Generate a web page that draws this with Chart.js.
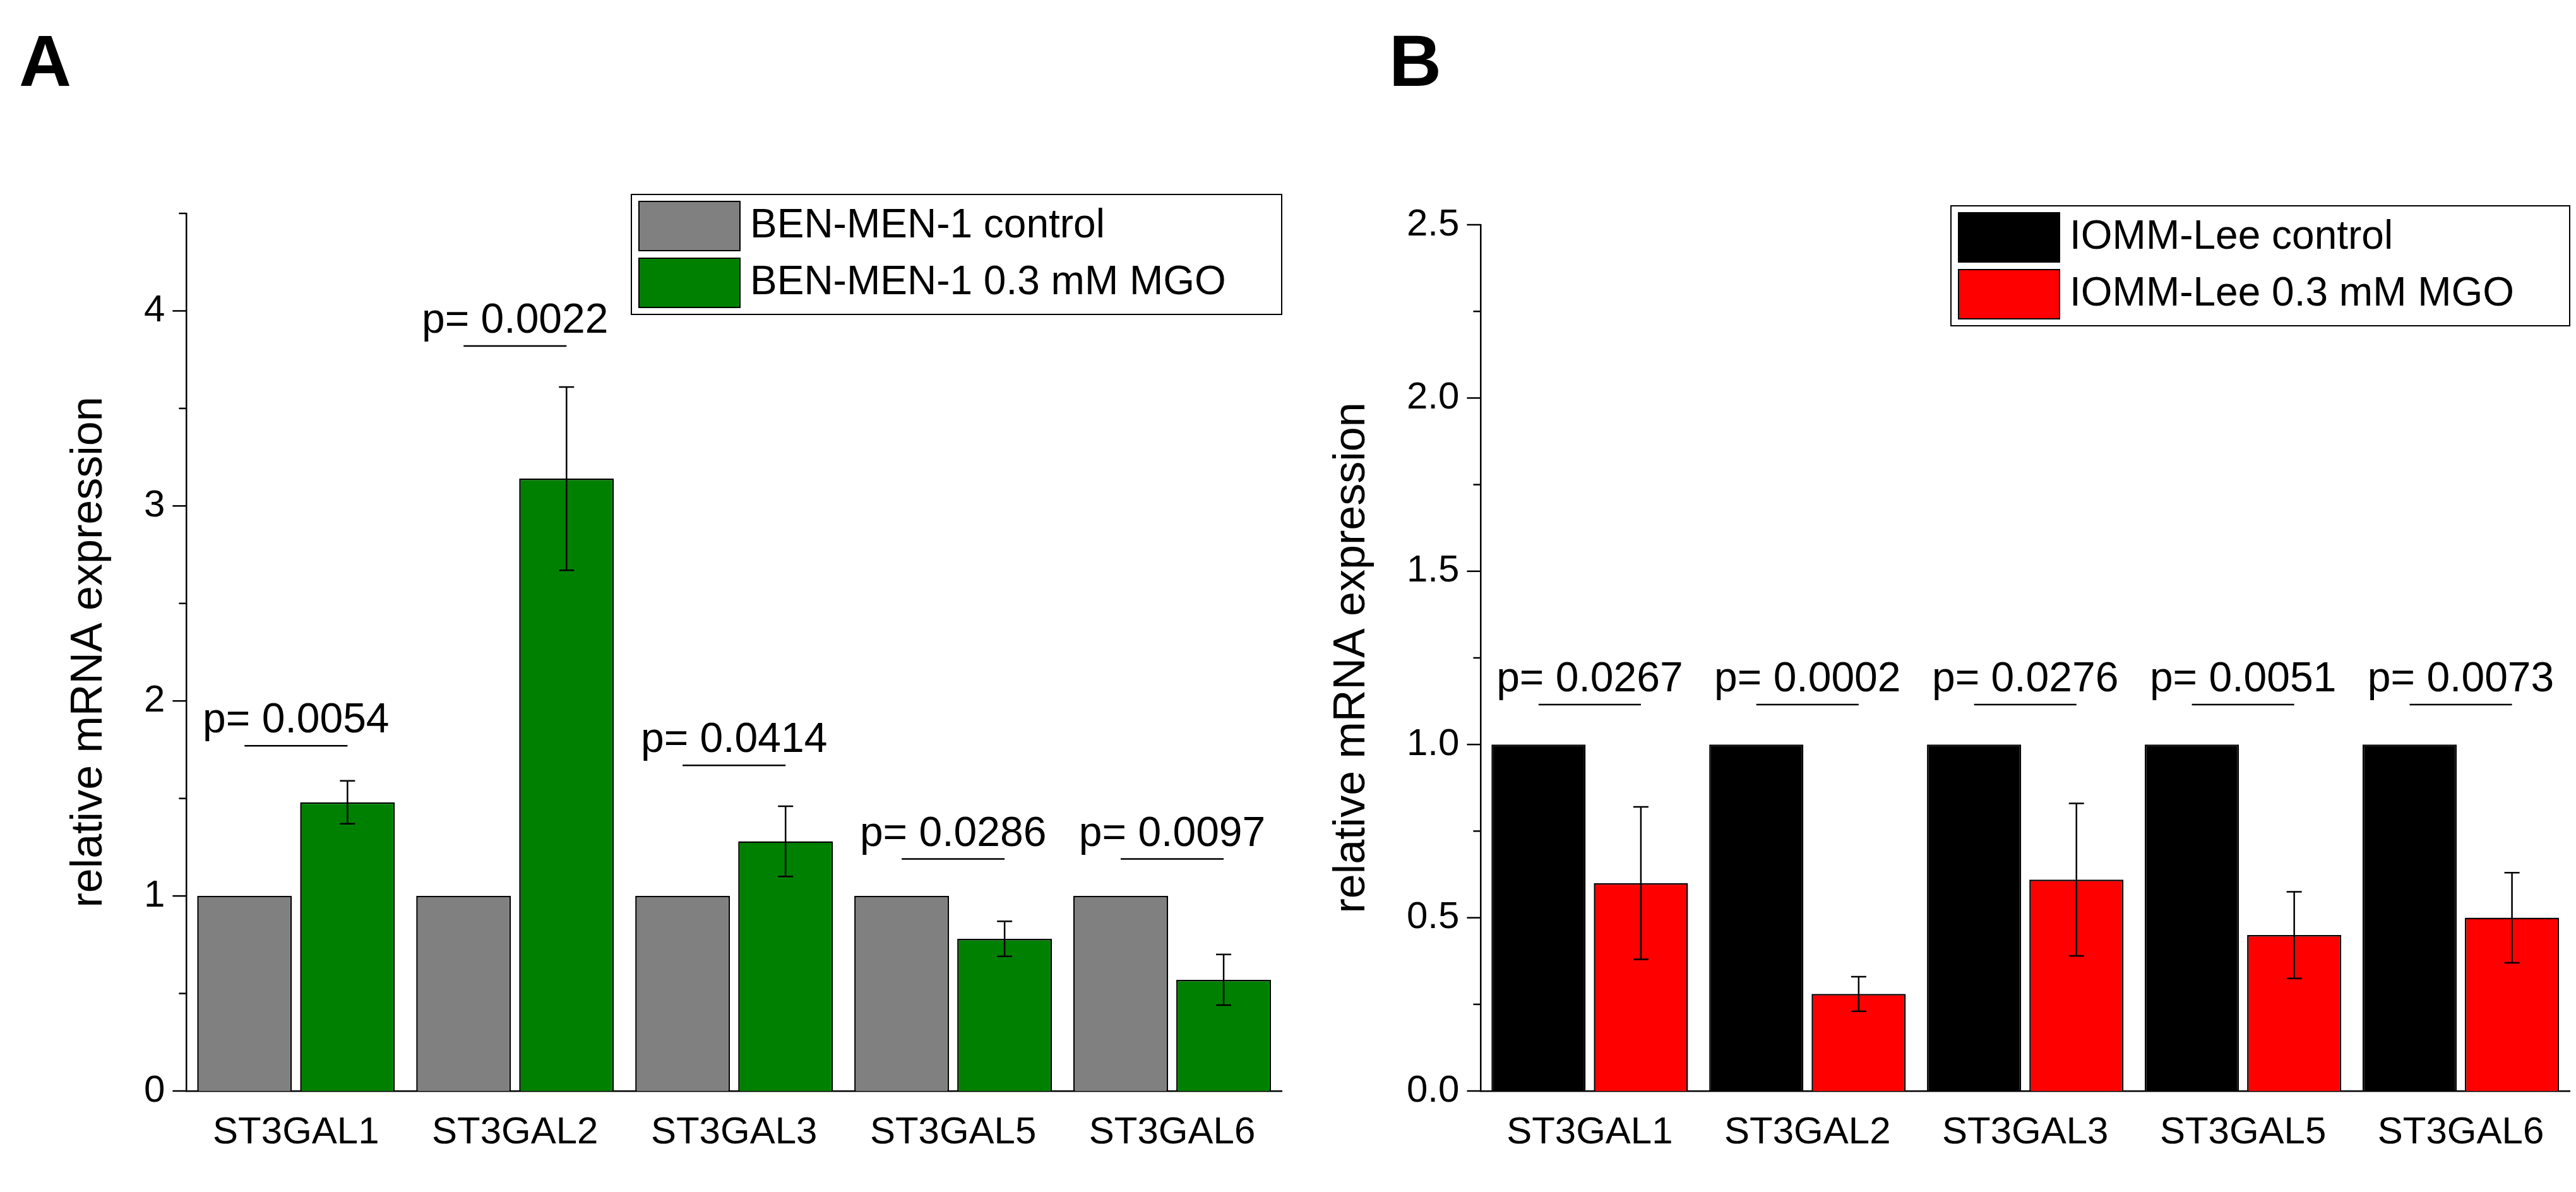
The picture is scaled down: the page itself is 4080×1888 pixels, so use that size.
<!DOCTYPE html>
<html><head><meta charset="utf-8">
<script src="https://cdn.jsdelivr.net/npm/chart.js@4"></script>
<style>
body{margin:0;background:#fff;width:4080px;height:1888px;position:relative;overflow:hidden;font-family:Arial,"Liberation Sans",sans-serif}
.c{position:absolute;top:0;height:1888px}
.lab{position:absolute;font:bold 115px "Liberation Sans",Arial,sans-serif;color:#000}
</style></head><body>
<div class="lab" style="left:30px;top:30px">A</div>
<div class="lab" style="left:2200px;top:30px">B</div>
<div class="c" style="left:0;width:2070px"><canvas id="a"></canvas></div>
<div class="c" style="left:2070px;width:2010px"><canvas id="b"></canvas></div>
<script>
const categories=["ST3GAL1","ST3GAL2","ST3GAL3","ST3GAL5","ST3GAL6"];
const ctrlA=[1,1,1,1,1];
const mgoA=[1.48,3.14,1.28,0.78,0.57];
const errA=[0.11,0.47,0.18,0.09,0.13];
const pA=["p= 0.0054","p= 0.0022","p= 0.0414","p= 0.0286","p= 0.0097"];
const pLineA=[1.77,3.82,1.67,1.19,1.19];
const ctrlB=[1,1,1,1,1];
const mgoB=[0.60,0.28,0.61,0.45,0.50];
const errB=[0.22,0.05,0.22,0.125,0.13];
const pB=["p= 0.0267","p= 0.0002","p= 0.0276","p= 0.0051","p= 0.0073"];
const pLineB=[1.115,1.115,1.115,1.115,1.115];
const yTicksA={max:4.5,step:1,minor:0.5};
const yTicksB={max:2.5,step:0.5,minor:0.25};
const FONT="'Liberation Sans',Arial,sans-serif";
Chart.defaults.font.family=FONT;Chart.defaults.color="#000";

function make(id,ctrl,mgo,err,pl,pline,yt,cols,names,fmt,pad,legendW){
 const extra={id:'extra',afterDatasetsDraw(ch){
  const c=ch.ctx,x=ch.scales.x,y=ch.scales.y,ca=ch.chartArea;
  const m0=ch.getDatasetMeta(0),m1=ch.getDatasetMeta(1);
  c.save();c.strokeStyle='#000';c.lineWidth=2.5;
  mgo.forEach((v,i)=>{const px=m1.data[i].x,t=y.getPixelForValue(v+err[i]),b=y.getPixelForValue(v-err[i]);
   c.beginPath();c.moveTo(px,t);c.lineTo(px,b);c.moveTo(px-12,t);c.lineTo(px+12,t);c.moveTo(px-12,b);c.lineTo(px+12,b);c.stroke();});
  c.font="66px "+FONT;c.fillStyle='#000';c.textAlign='center';c.textBaseline='bottom';
  pl.forEach((s,i)=>{const a=m0.data[i].x,b=m1.data[i].x,py=y.getPixelForValue(pline[i]);
   c.beginPath();c.moveTo(a,py);c.lineTo(b,py);c.stroke();c.fillText(s,(a+b)/2,py-6);});
  for(let v=0;v<=yt.max+1e-9;v+=yt.minor){const py=y.getPixelForValue(v);const maj=Math.abs(v/yt.step-Math.round(v/yt.step))<1e-6;c.beginPath();c.moveTo(ca.left,py);c.lineTo(ca.left-(maj?22:12),py);c.stroke();}
  const rh=90,lx=ca.right-legendW,ly=ca.top-30;
  c.lineWidth=2;c.strokeRect(lx,ly,legendW,rh*2+10);
  c.font="64px "+FONT;c.textAlign='left';c.textBaseline='middle';
  names.forEach((n,k)=>{const yy=ly+5+k*rh;c.fillStyle=cols[k];c.fillRect(lx+12,yy+6,160,rh-12);c.strokeRect(lx+12,yy+6,160,rh-12);c.fillStyle='#000';c.fillText(n,lx+188,yy+rh/2);});
  c.restore();}};
 new Chart(document.getElementById(id),{type:'bar',
  data:{labels:categories,datasets:[
   {data:ctrl,backgroundColor:cols[0],borderColor:'#000',borderWidth:2.5},
   {data:mgo,backgroundColor:cols[1],borderColor:'#000',borderWidth:2.5}]},
  options:{responsive:true,maintainAspectRatio:false,animation:false,
   layout:{padding:pad},
   plugins:{legend:{display:false},tooltip:{enabled:false}},
   datasets:{bar:{barPercentage:0.92,categoryPercentage:0.94}},
   scales:{
    x:{grid:{display:false,drawTicks:true,tickLength:22,tickWidth:2.5,tickColor:'#000'},border:{color:'#000',width:2.5},
       ticks:{font:{size:60},padding:8}},
    y:{min:0,max:yt.max,grid:{display:false,drawTicks:false},border:{color:'#000',width:2.5},
       afterBuildTicks(s){const t=[];for(let v=0;v<=yt.max+1e-9;v+=yt.step)t.push({value:+v.toFixed(3)});s.ticks=t;},
       ticks:{font:{size:60},padding:34,callback:fmt},
       title:{display:true,text:'relative mRNA expression',font:{size:70},padding:10}}}},
  plugins:[extra]});
}
make('a',ctrlA,mgoA,errA,pA,pLineA,yTicksA,['#808080','#008000'],['BEN-MEN-1 control','BEN-MEN-1 0.3 mM MGO'],v=>String(v),{top:338,bottom:50,left:90,right:40},1030);
make('b',ctrlB,mgoB,errB,pB,pLineB,yTicksB,['#000000','#ff0000'],['IOMM-Lee control','IOMM-Lee 0.3 mM MGO'],v=>v.toFixed(1),{top:356,bottom:50,left:20,right:10},980);
</script></body></html>
